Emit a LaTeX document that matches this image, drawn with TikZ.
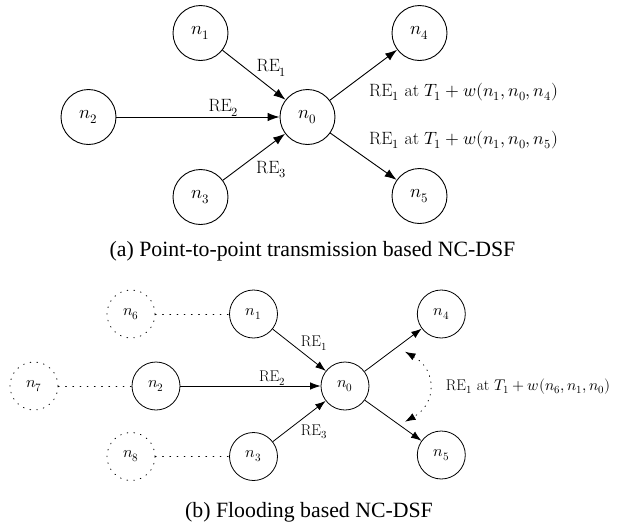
\documentclass[tikz,border=0pt]{standalone}
\usepackage{unicode-math}
\setmathfont{Latin Modern Math}
\newfontfamily\capfont{Liberation Serif}
\usetikzlibrary{arrows.meta}

\begin{document}
\begin{tikzpicture}[x=1pt,y=-1pt,
  nodeA/.style={circle,draw,line width=0.9pt,minimum size=55pt,inner sep=0pt,font=\fontsize{18.5}{22}\selectfont},
  nodeB/.style={circle,draw,line width=0.8pt,minimum size=48pt,inner sep=0pt,font=\fontsize{16}{19}\selectfont},
  ghost/.style={nodeB,dash pattern=on 0.8pt off 6pt,line cap=round},
  edgeA/.style={line width=0.9pt,-{Latex[length=12pt,width=8.5pt]}},
  edgeB/.style={line width=0.8pt,-{Latex[length=10.5pt,width=7.5pt]}},
  dots/.style={line width=0.9pt,dash pattern=on 0.8pt off 6.4pt,line cap=round},
  labA/.style={inner sep=0pt,anchor=base west,font=\fontsize{17.8}{21}\selectfont},
  labB/.style={inner sep=0pt,anchor=base west,font=\fontsize{15.5}{18}\selectfont},
  captext/.style={inner sep=0pt,anchor=base,font=\capfont\fontsize{21.8}{26}\selectfont}]

\useasboundingbox (0,0) rectangle (633,523);

% (a) point-to-point transmission
\node[nodeA] (a1) at (200.5,33)  {$n_1$};
\node[nodeA] (a2) at (88.5,117)  {$n_2$};
\node[nodeA] (a0) at (307.5,117) {$n_0$};
\node[nodeA] (a3) at (200.5,197) {$n_3$};
\node[nodeA] (a4) at (419.5,33)  {$n_4$};
\node[nodeA] (a5) at (419.5,196) {$n_5$};

\draw[edgeA] (a1) -- (a0);
\draw[edgeA] (a2) -- (a0);
\draw[edgeA] (a3) -- (a0);
\draw[edgeA] (a0) -- (a4);
\draw[edgeA] (a0) -- (a5);

\node[labA] (re1a) at (256.5,71.7)  {RE$_1$};
\node[labA] (re2a) at (208.3,111.7) {RE$_2$};
\node[labA] (re3a) at (256,173.3)   {RE$_3$};
\node[labA] (wa4)  at (369,96.5)    {RE$_1$ at $T_1+w(n_1,n_0,n_4)$};
\node[labA] (wa5)  at (369,144)     {RE$_1$ at $T_1+w(n_1,n_0,n_5)$};

\node[captext] (capa) at (312.5,256) {(a) Point-to-point transmission based NC-DSF};

% (b) flooding
\node[nodeB] (b1) at (253.5,314)   {$n_1$};
\node[nodeB] (b2) at (156,386)     {$n_2$};
\node[nodeB] (b0) at (345,386)     {$n_0$};
\node[nodeB] (b3) at (253.5,456.5) {$n_3$};
\node[nodeB] (b4) at (441.3,314)   {$n_4$};
\node[nodeB] (b5) at (441.3,455)   {$n_5$};
\node[ghost] (b6) at (131,314)     {$n_6$};
\node[ghost] (b7) at (34,386)      {$n_7$};
\node[ghost] (b8) at (131,456.5)   {$n_8$};

\draw[dots] (b6) -- (b1);
\draw[dots] (b7) -- (b2);
\draw[dots] (b8) -- (b3);

\draw[edgeB] (b1) -- (b0);
\draw[edgeB] (b2) -- (b0);
\draw[edgeB] (b3) -- (b0);
\draw[edgeB] (b0) -- (b4);
\draw[edgeB] (b0) -- (b5);

\coordinate (ua) at (405,351.7);
\coordinate (la) at (405,421.7);
\draw[line width=0.8pt,dash pattern=on 0.8pt off 5.5pt,line cap=round,
      {Latex[length=10.5pt,width=7.5pt]}-{Latex[length=10.5pt,width=7.5pt]}]
  (ua) .. controls +(32,18) and +(32,-18) .. (la);

\node[labB] (re1b) at (300.7,346.7) {RE$_1$};
\node[labB] (re2b) at (259,381.7)   {RE$_2$};
\node[labB] (re3b) at (300.7,435)   {RE$_3$};
\node[labB] (wb)   at (445.7,390)   {RE$_1$ at $T_1+w(n_6,n_1,n_0)$};

\node[captext] (capb) at (309,517) {(b) Flooding based NC-DSF};
\end{tikzpicture}
\end{document}
